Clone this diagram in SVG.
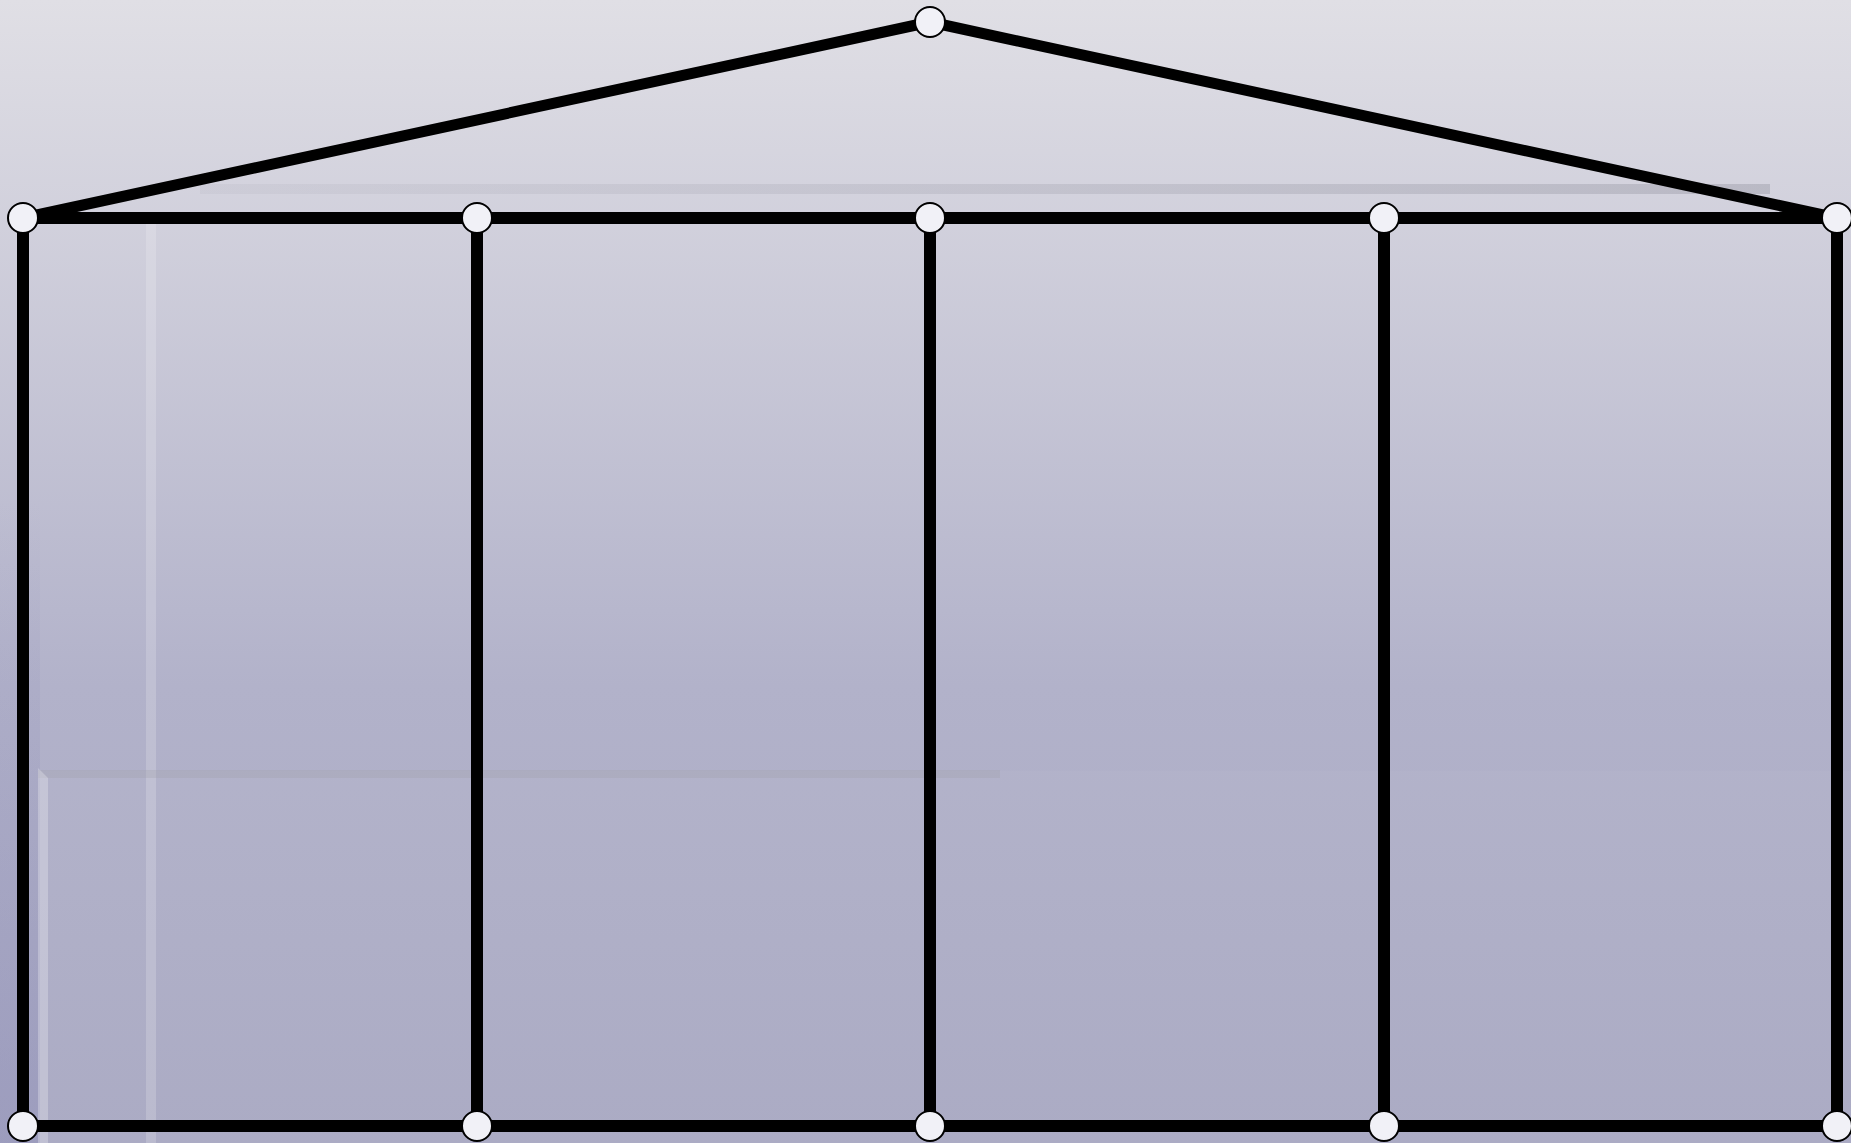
<svg xmlns="http://www.w3.org/2000/svg" width="1851" height="1143" viewBox="0 0 1851 1143">
<defs>
<linearGradient id="bg" x1="0" y1="0" x2="0" y2="1">
<stop offset="0" stop-color="#e0dfe5"/>
<stop offset="0.6" stop-color="#b2b2ca"/>
<stop offset="1" stop-color="#a9a9c3"/>
</linearGradient>
<linearGradient id="leftShade" x1="0" y1="0" x2="0" y2="1">
<stop offset="0" stop-color="#9090b8" stop-opacity="0"/>
<stop offset="1" stop-color="#9090b8" stop-opacity="0.5"/>
</linearGradient>
<linearGradient id="band" x1="0" y1="0" x2="1" y2="0">
<stop offset="0" stop-color="#a8a8b4" stop-opacity="0.15"/>
<stop offset="1" stop-color="#a0a0ac" stop-opacity="0.5"/>
</linearGradient>
<style>
.frame{stroke:#000;stroke-width:12;fill:none;stroke-linecap:butt}
.roof{stroke:#000;stroke-width:11;fill:none}
.node{fill:#f1f1f7;stroke:#000;stroke-width:2}
</style>
</defs>
<rect x="0" y="0" width="1851" height="1143" fill="url(#bg)"/>
<rect x="0" y="500" width="40" height="643" fill="url(#leftShade)"/>
<rect x="200" y="184" width="1570" height="10" fill="url(#band)"/>
<rect x="146" y="222" width="10" height="921" fill="#ffffff" opacity="0.18"/>
<rect x="38" y="771" width="1813" height="372" fill="#ffffff" opacity="0.03"/>
<rect x="38" y="770" width="962" height="8" fill="#a0a0a8" opacity="0.3"/>
<polygon points="38,768 48,778 48,1143 38,1143" fill="#ffffff" opacity="0.25"/>
<g id="connectors">
<line class="roof" x1="23" y1="218" x2="930" y2="22"/>
<line class="roof" x1="930" y1="22" x2="1837" y2="218"/>
<line class="frame" x1="23" y1="218" x2="1837" y2="218"/>
<line class="frame" x1="23" y1="1126" x2="1837" y2="1126"/>
<line class="frame" x1="23" y1="218" x2="23" y2="1126"/>
<line class="frame" x1="477" y1="218" x2="477" y2="1126"/>
<line class="frame" x1="930" y1="218" x2="930" y2="1126"/>
<line class="frame" x1="1384" y1="218" x2="1384" y2="1126"/>
<line class="frame" x1="1837" y1="218" x2="1837" y2="1126"/>
</g>
<g id="n-apex"><circle class="node" cx="930" cy="22" r="15"/></g>
<g id="n-t1"><circle class="node" cx="23" cy="218" r="15"/></g>
<g id="n-t2"><circle class="node" cx="477" cy="218" r="15"/></g>
<g id="n-t3"><circle class="node" cx="930" cy="218" r="15"/></g>
<g id="n-t4"><circle class="node" cx="1384" cy="218" r="15"/></g>
<g id="n-t5"><circle class="node" cx="1837" cy="218" r="15"/></g>
<g id="n-b1"><circle class="node" cx="23" cy="1126" r="15"/></g>
<g id="n-b2"><circle class="node" cx="477" cy="1126" r="15"/></g>
<g id="n-b3"><circle class="node" cx="930" cy="1126" r="15"/></g>
<g id="n-b4"><circle class="node" cx="1384" cy="1126" r="15"/></g>
<g id="n-b5"><circle class="node" cx="1837" cy="1126" r="15"/></g>
</svg>
